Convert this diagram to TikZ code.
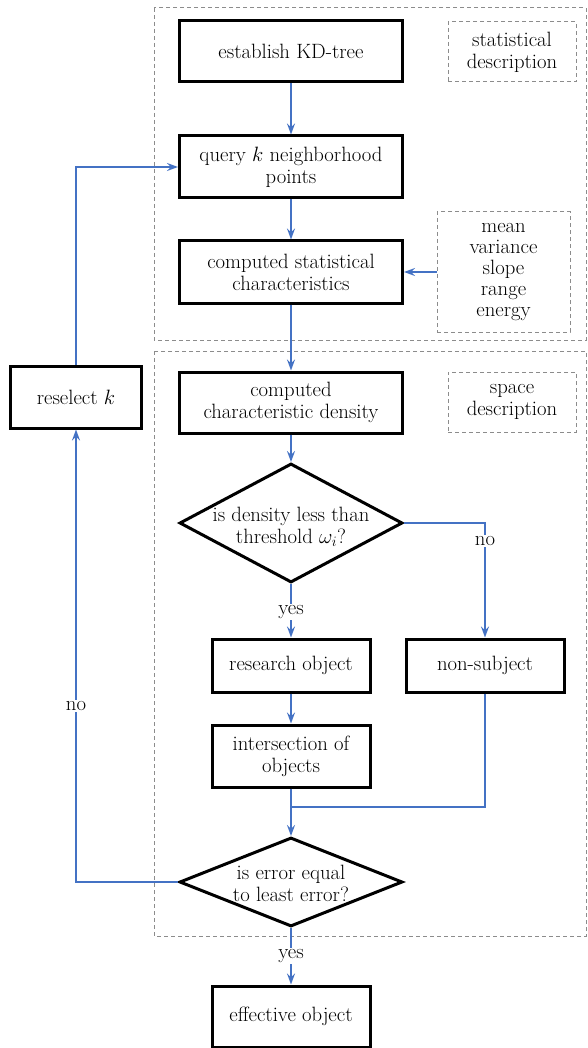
\documentclass[tikz,border=0pt]{standalone}
\usetikzlibrary{arrows.meta,shapes.geometric}
\definecolor{lineblue}{RGB}{68,114,196}
\definecolor{dashgray}{RGB}{140,140,140}
\begin{document}
\begin{tikzpicture}[x=1pt,y=-1pt,
  every node/.style={font=\fontsize{20.7}{22}\selectfont},
  pbox/.style={draw=black,line width=3pt,align=center,inner sep=0pt,fill=white},
  dbox/.style={draw=dashgray,line width=1pt,dash pattern=on 4pt off 3pt,align=center,inner sep=0pt},
  grp/.style={draw=dashgray,line width=1pt,dash pattern=on 4pt off 3pt},
  dia/.style={draw=black,line width=3pt,shape=diamond,inner sep=0pt},
  conn/.style={draw=lineblue,line width=2pt,-{Stealth[length=11pt,width=8pt,inset=4pt]}},
  plain/.style={draw=lineblue,line width=2pt},
  lbl/.style={fill=white,inner sep=1.5pt}
]
\useasboundingbox (0,0) rectangle (587,1048);
% group frames
\draw[grp] (154,8) rectangle (586,340);
\draw[grp] (154,351) rectangle (586,936);

% main nodes
\node[pbox,minimum width=223pt,minimum height=61pt] (kd) at (291,51.5) {establish KD-tree};
\node[pbox,minimum width=223pt,minimum height=62pt] (query) at (291,167) {query $k$ neighborhood\\points};
\node[pbox,minimum width=223pt,minimum height=62pt] (stat) at (291,272) {computed statistical\\characteristics};
\node[pbox,minimum width=223pt,minimum height=61pt] (dens) at (291,402.5) {computed\\characteristic density};
\node[dia,minimum width=223pt,minimum height=119pt] (d1) at (291,523) {};
\node[align=center,inner sep=0pt] (d1t) at (291,527) {is density less than\\threshold $\omega_i$?};
\node[pbox,minimum width=158pt,minimum height=53pt] (res) at (291,665.5) {research object};
\node[pbox,minimum width=158pt,minimum height=53pt] (non) at (485,665.5) {non-subject};
\node[pbox,minimum width=158pt,minimum height=62pt] (inter) at (291,756) {intersection of\\objects};
\node[dia,minimum width=223pt,minimum height=89pt] (d2) at (291,882) {};
\node[align=center,inner sep=0pt] (d2t) at (291,883) {is error equal\\to least error?};
\node[pbox,minimum width=158pt,minimum height=61pt] (eff) at (291,1016.5) {effective object};
\node[pbox,minimum width=131pt,minimum height=62pt] (resel) at (76,397) {reselect $k$};

% side descriptions
\node[dbox,minimum width=128pt,minimum height=60pt] (sdesc) at (512,52) {statistical\\description};
\node[dbox,minimum width=133pt,minimum height=120pt,font=\fontsize{20.7}{21}\selectfont] (feat) at (503.5,272) {mean\\variance\\slope\\range\\energy};
\node[dbox,minimum width=128pt,minimum height=60pt] (spdesc) at (512,402) {space\\description};

% connectors
\draw[conn] (kd.south) -- (query.north);
\draw[conn] (query.south) -- (stat.north);
\draw[conn] (feat.west) -- (stat.east);
\draw[conn] (stat.south) -- (dens.north);
\draw[conn] (dens.south) -- (d1.north);
\draw[conn] (d1.south) -- (res.north);
\node[lbl] (yes1) at (291,612) {yes};
\draw[conn] (d1.east) -| (non.north);
\node[lbl] (no1) at (485,541) {no};
\draw[conn] (res.south) -- (inter.north);
\coordinate (merge) at (291,807);
\draw[plain] (non.south) |- (merge);
\draw[conn] (inter.south) -- (d2.north);
\draw[conn] (d2.south) -- (eff.north);
\node[lbl] (yes2) at (291,956) {yes};
\draw[conn] (d2.west) -| (resel.south);
\node[lbl] (no2) at (76,706) {no};
\draw[conn] (resel.north) |- (query.west);
\end{tikzpicture}
\end{document}
